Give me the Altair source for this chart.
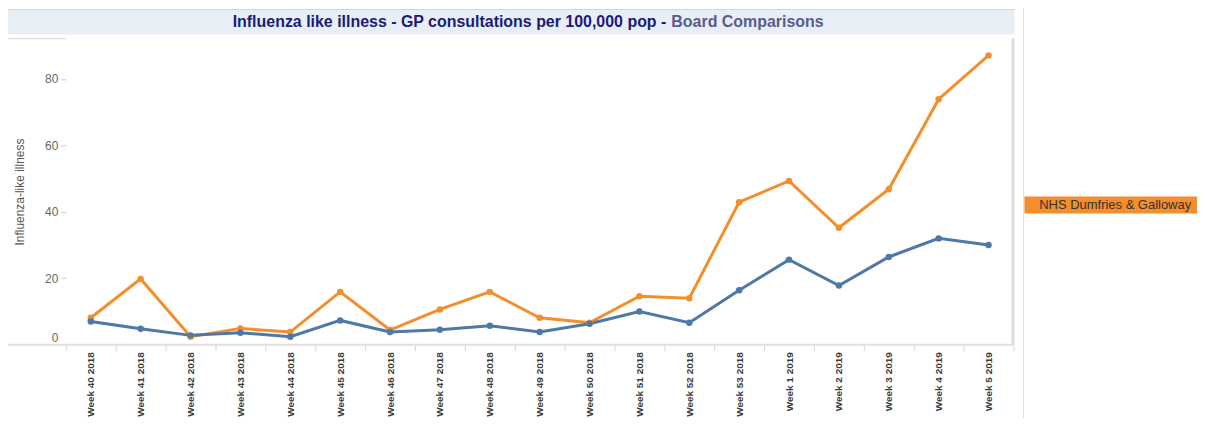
import altair as alt
import pandas as pd

weeks = ["Week 40 2018", "Week 41 2018", "Week 42 2018", "Week 43 2018", "Week 44 2018",
         "Week 45 2018", "Week 46 2018", "Week 47 2018", "Week 48 2018", "Week 49 2018",
         "Week 50 2018", "Week 51 2018", "Week 52 2018", "Week 53 2018", "Week 1 2019",
         "Week 2 2019", "Week 3 2019", "Week 4 2019", "Week 5 2019"]
dumfries = [8.1, 19.8, 2.4, 4.9, 3.8, 15.9, 4.4, 10.6, 15.9, 8.1, 6.6, 14.6, 14.0,
            42.9, 49.3, 35.2, 46.8, 73.9, 87.1]
scotland = [7.0, 4.8, 2.8, 3.6, 2.4, 7.3, 3.8, 4.5, 5.7, 3.8, 6.3, 10.0, 6.6,
            16.4, 25.6, 17.8, 26.4, 32.0, 30.0]
series_names = ["NHS Dumfries & Galloway", "Scotland"]
series_colors = ["#f28e2b", "#4e79a7"]
y_ticks = [0, 20, 40, 60, 80]
title_main = "Influenza like illness - GP consultations per 100,000 pop -"
title_sub = "Board Comparisons"
y_title = "Influenza-like illness"

n = len(weeks)
df = pd.DataFrame({
    "week": weeks * 2,
    "series": [series_names[0]] * n + [series_names[1]] * n,
    "value": dumfries + scotland,
})

W, H = 950, 307
FONT = "Liberation Sans"

x_enc = alt.X("week:N", sort=weeks,
              scale=alt.Scale(type="band", paddingInner=0, paddingOuter=0),
              axis=alt.Axis(title=None, labelAngle=-90, tickBand="extent",
                            labelFont=FONT, labelFontWeight="bold", labelFontSize=10,
                            labelColor="#3a3a3a", tickColor="#d6d6d6", tickSize=6,
                            tickWidth=1, domain=False, labelPadding=1))
y_enc = alt.Y("value:Q",
              scale=alt.Scale(domain=[0, 92.2], nice=False),
              axis=alt.Axis(title=y_title, values=y_ticks, grid=False, domain=False,
                            tickSize=5, tickColor={"condition": {"test": "datum.value === 0", "value": "transparent"}, "value": "#cccccc"},
                            labelPadding=3, labelFont=FONT, labelFontSize=12,
                            labelColor="#666666",
                            labelBaseline={"condition": {"test": "datum.value === 0", "value": "bottom"}, "value": "middle"},
                            titleFont=FONT, titleFontSize=12, titleFontWeight="normal",
                            titleColor="#555555", titleX=-46, titleBaseline="middle"))
color_enc = alt.Color("series:N", sort=series_names,
                      scale=alt.Scale(domain=series_names, range=series_colors),
                      legend=None)

base = alt.Chart(df).encode(x=x_enc, y=y_enc, color=color_enc,
                            order=alt.Order("series:N", sort="ascending"))
lines = base.mark_line(strokeWidth=3)
points = base.mark_point(filled=True, size=42, opacity=1)

one = pd.DataFrame({"a": [0]})

def rect(x1, x2, y1, y2, fill):
    return alt.Chart(one).mark_rect(fill=fill).encode(
        x=alt.value(x1), x2=alt.value(x2), y=alt.value(y1), y2=alt.value(y2))

def rule(x1, x2, y1, y2, color, w=1):
    return alt.Chart(one).mark_rule(color=color, strokeWidth=w).encode(
        x=alt.value(x1), x2=alt.value(x2), y=alt.value(y1), y2=alt.value(y2))

title_band = rect(-59, 951, -29, -4, "#e7eef5")
frame_top = rule(-59, 951, -29, -29, "#d4d4d4")
frame_left = rule(-59, -59, -29, H, "#d4d4d4", 1.5)
top_short = rule(-59, 0, 0, 0, "#dddddd", 1.5)
x_line = rule(-59, W, H, H, "#e0e0e0", 2)
right_border = rule(949.5, 949.5, 0, H, "#dcdcdc", 3)
separator = rule(960, 960, -38, 400, "#e0e0e0", 1)

t1 = alt.Chart(one).mark_text(text=title_main, align="right", baseline="alphabetic",
                              font=FONT, fontSize=16, fontWeight="bold",
                              color="#1b1b78").encode(x=alt.value(602), y=alt.value(-11))
t2 = alt.Chart(one).mark_text(text=title_sub, align="left", baseline="alphabetic",
                              font=FONT, fontSize=16, fontWeight="bold",
                              color="#5a5c8e").encode(x=alt.value(607), y=alt.value(-11))

legend_box = rect(961, 1134, 158.5, 175.5, series_colors[0])
legend_text = alt.Chart(one).mark_text(text=series_names[0], align="center", baseline="middle",
                                       font=FONT, fontSize=13, color="#333333").encode(
    x=alt.value(1052), y=alt.value(167))

chart = alt.layer(
    title_band, frame_top, frame_left, top_short, x_line, right_border, separator,
    t1, t2, legend_box, legend_text, lines, points
).properties(
    width=W, height=H,
    autosize=alt.AutoSizeParams(type="none"),
    padding={"left": 58, "top": 30, "right": 184, "bottom": 73},
).configure_view(strokeWidth=0)

chart.save("out.html", embed_options={"renderer": "svg", "actions": False})
